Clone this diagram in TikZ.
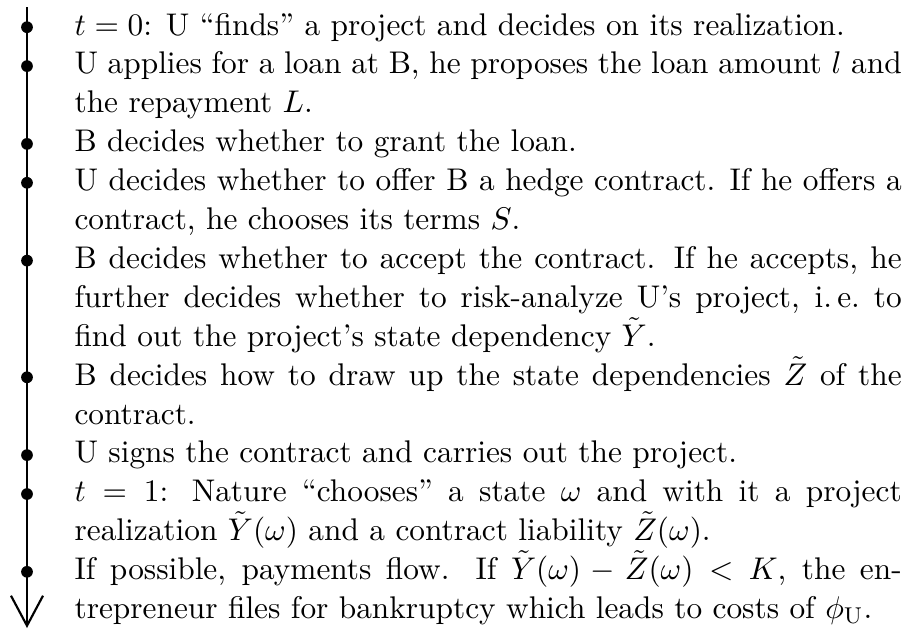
\documentclass[tikz,border=0pt]{standalone}
\usepackage{amsmath}
\usepackage{amssymb}
\usepackage{tikz}
\usetikzlibrary{arrows.meta}

\begin{document}
\begin{tikzpicture}[x=0.3494pt, y=-0.3494pt,
  font=\fontsize{10.95}{13.6}\selectfont,
  event/.style={anchor=base west, inner sep=0pt, text width=289pt, align=justify},
  tick/.style={circle, fill=black, inner sep=0pt, minimum size=4.1pt}]
  \useasboundingbox (0,0) rectangle (911,630);
  % Time axis
  \coordinate (start) at (27,7);
  \coordinate (end)   at (27,628);
  \draw[line width=0.75pt, -{Straight Barb[length=10.5pt, width=11.2pt]}] (start) -- (end);
  % Events
  \node[event] (t0) at (74, 35.0)
    {$t=0$: U ``finds'' a project and decides on its realization.};
  \node[event] (apply) at (74, 73.9)
    {U applies for a loan at B, he proposes the loan amount $l$ and the repayment $L$.};
  \node[event] (grant) at (74, 151.7)
    {B decides whether to grant the loan.};
  \node[event] (offer) at (74, 190.6)
    {U decides whether to offer B a hedge contract. If he offers a contract, he chooses its terms $S$.};
  \node[event] (accept) at (74, 268.4)
    {B decides whether to accept the contract. If he accepts, he further decides whether to risk-analyze U's project, i.\,e.\ to find out the project's state dependency $\tilde{Y}$.};
  \node[event] (design) at (74, 385.1)
    {B decides how to draw up the state dependencies $\tilde{Z}$ of the contract.};
  \node[event] (sign) at (74, 462.9)
    {U signs the contract and carries out the project.};
  \node[event] (nature) at (74, 501.8)
    {$t=1$: Nature ``chooses'' a state $\omega$ and with it a project realization $\tilde{Y}(\omega)$ and a contract liability $\tilde{Z}(\omega)$.};
  \node[event] (payoff) at (74, 579.6)
    {If possible, payments flow. If $\tilde{Y}(\omega)-\tilde{Z}(\omega)<K$, the entrepreneur files for bankruptcy which leads to costs of $\phi_{\mathrm{U}}$.};
  % Dots on the axis
  \node[tick] (dot-t0)     at (27, 27.2)  {};
  \node[tick] (dot-apply)  at (27, 66.1)  {};
  \node[tick] (dot-grant)  at (27, 143.9) {};
  \node[tick] (dot-offer)  at (27, 182.8) {};
  \node[tick] (dot-accept) at (27, 260.6) {};
  \node[tick] (dot-design) at (27, 377.3) {};
  \node[tick] (dot-sign)   at (27, 455.1) {};
  \node[tick] (dot-nature) at (27, 494.0) {};
  \node[tick] (dot-payoff) at (27, 571.8) {};
\end{tikzpicture}
\end{document}
